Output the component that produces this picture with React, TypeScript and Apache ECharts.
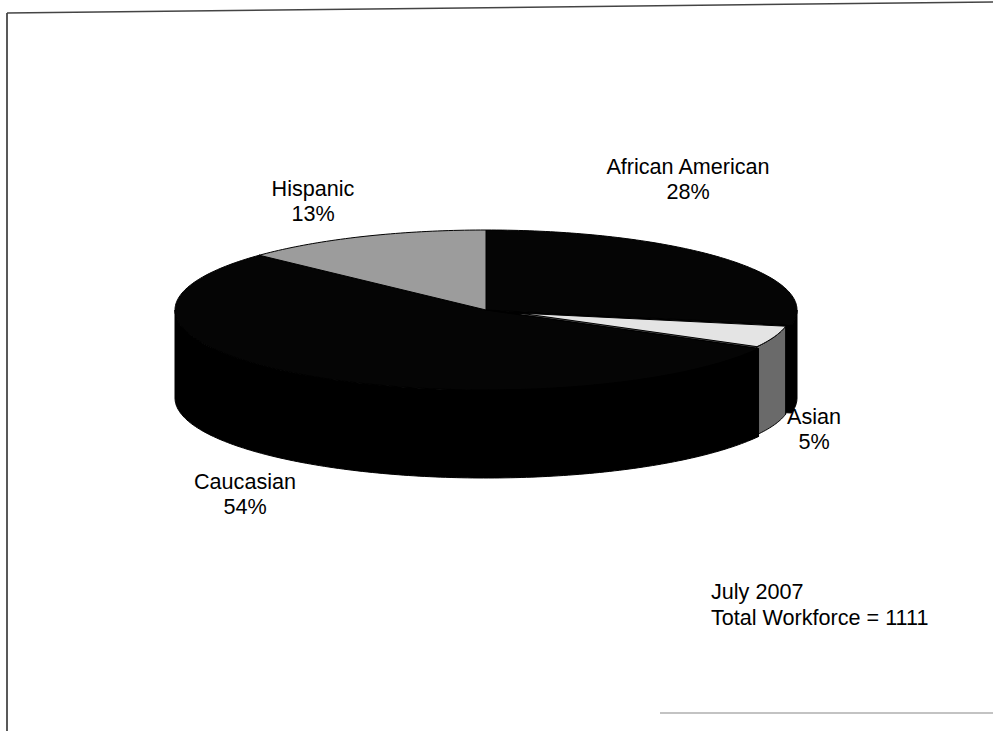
import React, { useEffect, useRef } from "react";
import * as echarts from "echarts";

// ---- data ----
const categories = ["African American", "Asian", "Caucasian", "Hispanic"];
const shares = [28, 5, 54, 13];
const noteLines = ["July 2007", "Total Workforce = 1111"];

// ---- layout / style ----
const CX = 486;
const CY = 310;
const RX = 311;
const RY = 80;
const DEPTH = 88;
const explode = [0, 36, 0, 0];
const radiusScale = [1, 0.87, 1, 1];
const topColors = ["#050505", "#e4e4e4", "#050505", "#9c9c9c"];
const sideColors = ["#000000", "#6a6a6a", "#000000", "#7a7a7a"];
const labelPos: [number, number][] = [
  [688, 154],
  [814, 404],
  [245, 469],
  [313, 176],
];
const FONT = '21.6px "Liberation Sans", Arial, sans-serif';

export default function App() {
  const ref = useRef<HTMLDivElement>(null);

  useEffect(() => {
    if (!ref.current) return;
    const chart = echarts.init(ref.current, null, { renderer: "svg" });
    const total = shares.reduce((a, b) => a + b, 0);
    const starts: number[] = [];
    let acc = 0;
    shares.forEach((v) => {
      starts.push((acc / total) * 360);
      acc += v;
    });
    const rad = (d: number) => (d * Math.PI) / 180;

    const renderItem = (params: any, api: any) => {
      const i = params.dataIndex;
      const v = api.value(1);
      const a0 = starts[i];
      const a1 = a0 + (v / total) * 360;
      const mid = (a0 + a1) / 2;
      const e = explode[i];
      const ox = e * Math.sin(rad(mid));
      const oy = (-e * Math.cos(rad(mid)) * RY) / RX;
      const r = radiusScale[i];
      const pt = (a: number, dz: number): number[] => [
        CX + ox + RX * r * Math.sin(rad(a)),
        CY + oy - RY * r * Math.cos(rad(a)) + dz,
      ];
      const arc = (b0: number, b1: number, dz: number): number[][] => {
        const n = Math.max(2, Math.ceil(Math.abs(b1 - b0)));
        const out: number[][] = [];
        for (let k = 0; k <= n; k++) out.push(pt(b0 + ((b1 - b0) * k) / n, dz));
        return out;
      };
      const c = [CX + ox, CY + oy];
      const cd = [CX + ox, CY + oy + DEPTH];
      const children: any[] = [];
      [a0, a1].forEach((a) => {
        children.push({
          type: "polygon",
          z2: 1,
          shape: { points: [c, pt(a, 0), pt(a, DEPTH), cd] },
          style: { fill: sideColors[i], stroke: "#000", lineWidth: 1 },
        });
      });
      const w0 = Math.max(a0, 90);
      const w1 = Math.min(a1, 270);
      if (w1 > w0) {
        const pts = arc(w0, w1, 0).concat(arc(w1, w0, DEPTH));
        children.push({
          type: "polygon",
          z2: 2,
          shape: { points: pts },
          style: { fill: sideColors[i], stroke: "#000", lineWidth: 1 },
        });
      }
      children.push({
        type: "polygon",
        z2: 3,
        shape: { points: [c].concat(arc(a0, a1, 0)) },
        style: { fill: topColors[i], stroke: "#000", lineWidth: 1 },
      });
      return { type: "group", children };
    };

    const graphics: any[] = [
      { type: "line", shape: { x1: 7, y1: 13, x2: 7, y2: 731 }, style: { stroke: "#222", lineWidth: 1.5 } },
      { type: "line", shape: { x1: 7, y1: 13, x2: 993, y2: 2 }, style: { stroke: "#444", lineWidth: 1.5 } },
      { type: "line", shape: { x1: 660, y1: 713, x2: 993, y2: 713 }, style: { stroke: "#888", lineWidth: 1.2 } },
    ];
    categories.forEach((name, i) => {
      graphics.push({
        type: "text",
        x: labelPos[i][0],
        y: labelPos[i][1],
        style: {
          text: `${name}\n${shares[i]}%`,
          font: FONT,
          fill: "#000",
          align: "center",
          textAlign: "center",
          verticalAlign: "top",
          textVerticalAlign: "top",
          lineHeight: 25,
        },
      });
    });
    graphics.push({
      type: "text",
      x: 711,
      y: 578,
      style: {
        text: noteLines.join("\n"),
        font: FONT,
        fill: "#000",
        align: "left",
        textAlign: "left",
        verticalAlign: "top",
        textVerticalAlign: "top",
        lineHeight: 26,
      },
    });

    chart.setOption({
      animation: false,
      backgroundColor: "#fff",
      graphic: graphics,
      series: [
        {
          type: "custom",
          coordinateSystem: "none",
          renderItem,
          data: shares.map((v, i) => [i, v]),
          silent: true,
        },
      ],
    });
    return () => chart.dispose();
  }, []);

  return (
    <div
      ref={ref}
      style={{ position: "fixed", left: 0, top: 0, width: 993, height: 731, background: "#fff" }}
    />
  );
}
